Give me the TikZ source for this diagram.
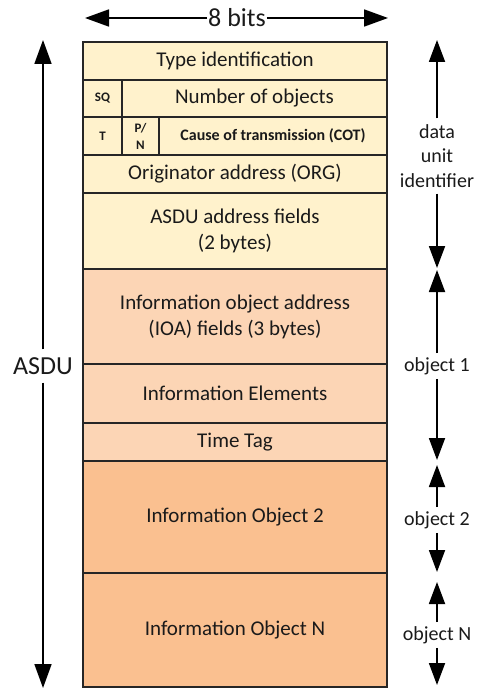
\documentclass[tikz,border=0pt]{standalone}
\usepackage{fontspec}
\setmainfont{Carlito}
\usetikzlibrary{arrows.meta}
\definecolor{yel}{HTML}{FFF2CC}
\definecolor{peach}{HTML}{FCD5B5}
\definecolor{orng}{HTML}{FAC090}
\definecolor{edge}{HTML}{262626}
\definecolor{txt}{HTML}{1A1A1A}
\begin{document}
\begin{tikzpicture}[x=1pt,y=-1pt,
  field/.style={draw=edge, line width=1.1pt, inner sep=0pt, outer sep=0pt, align=center,
    font=\fontsize{21}{26}\selectfont, text=txt},
  smallfield/.style={field, font=\bfseries\fontsize{13}{17}\selectfont},
  cotfield/.style={field, font=\bfseries\fontsize{16}{18}\selectfont},
  biglbl/.style={font=\fontsize{26}{30}\selectfont, text=txt, inner sep=1pt},
  sidelbl/.style={font=\fontsize{20}{24.5}\selectfont, text=txt, align=center, inner sep=4pt},
  bigdim/.style={line width=1.8pt, -{Triangle[length=24pt,width=17pt]}},
  sidedim/.style={line width=1.8pt, -{Triangle[length=22pt,width=16pt]}}
]
\useasboundingbox (0,0) rectangle (478,690);

% fields
\node[field, fill=yel, minimum width=304pt, minimum height=38pt] (ti) at (235,61) {Type identification};
\node[smallfield, fill=yel, minimum width=39pt, minimum height=37pt] (sq) at (102.5,98.5) {SQ};
\node[field, fill=yel, minimum width=265pt, minimum height=37pt] (no) at (254.5,98.5) {Number of objects};
\node[smallfield, fill=yel, minimum width=39pt, minimum height=38pt] (t) at (102.5,136) {T};
\node[smallfield, fill=yel, minimum width=37pt, minimum height=38pt] (pn) at (140.5,136) {P/\\N};
\node[cotfield, fill=yel, minimum width=228pt, minimum height=38pt] (cot) at (273,136) {Cause of transmission (COT)};
\node[field, fill=yel, minimum width=304pt, minimum height=38pt] (org) at (235,174) {Originator address (ORG)};
\node[field, fill=yel, minimum width=304pt, minimum height=76pt] (ca) at (235,231) {ASDU address fields\\(2 bytes)};
\node[field, fill=peach, minimum width=304pt, minimum height=95pt] (ioa) at (235,316.5) {Information object address\\(IOA) fields (3 bytes)};
\node[field, fill=peach, minimum width=304pt, minimum height=59pt] (ie) at (235,393.5) {Information Elements};
\node[field, fill=peach, minimum width=304pt, minimum height=38pt] (tt) at (235,442) {Time Tag};
\node[field, fill=orng, minimum width=304pt, minimum height=112pt] (io2) at (235,517) {Information Object 2};
\node[field, fill=orng, minimum width=304pt, minimum height=114pt] (ion) at (235,630) {Information Object N};

% 8 bits
\coordinate (bitsL) at (85,18);
\coordinate (bitsR) at (388,18);
\node[biglbl] (bits) at (237,18) {8 bits};
\draw[bigdim] (bits) -- (bitsL);
\draw[bigdim] (bits) -- (bitsR);

% ASDU
\coordinate (asduT) at (43,40);
\coordinate (asduB) at (43,688);
\node[biglbl, inner sep=8pt] (asdu) at (43,366) {ASDU};
\draw[bigdim] (asdu) -- (asduT);
\draw[bigdim] (asdu) -- (asduB);

% right side
\coordinate (duiT) at (437,40);
\coordinate (duiB) at (437,268);
\node[sidelbl, inner sep=6pt] (dui) at (437,156) {data\\unit\\identifier};
\draw[sidedim] (dui) -- (duiT);
\draw[sidedim] (dui) -- (duiB);

\coordinate (oaT) at (437,270);
\coordinate (oaB) at (437,460);
\node[sidelbl] (oa) at (437,366) {object 1};
\draw[sidedim] (oa) -- (oaT);
\draw[sidedim] (oa) -- (oaB);

\coordinate (obT) at (437,465);
\coordinate (obB) at (437,572);
\node[sidelbl] (ob) at (437,520) {object 2};
\draw[sidedim] (ob) -- (obT);
\draw[sidedim] (ob) -- (obB);

\coordinate (onT) at (437,582);
\coordinate (onB) at (437,685);
\node[sidelbl] (on) at (437,635) {object N};
\draw[sidedim] (on) -- (onT);
\draw[sidedim] (on) -- (onB);
\end{tikzpicture}
\end{document}
